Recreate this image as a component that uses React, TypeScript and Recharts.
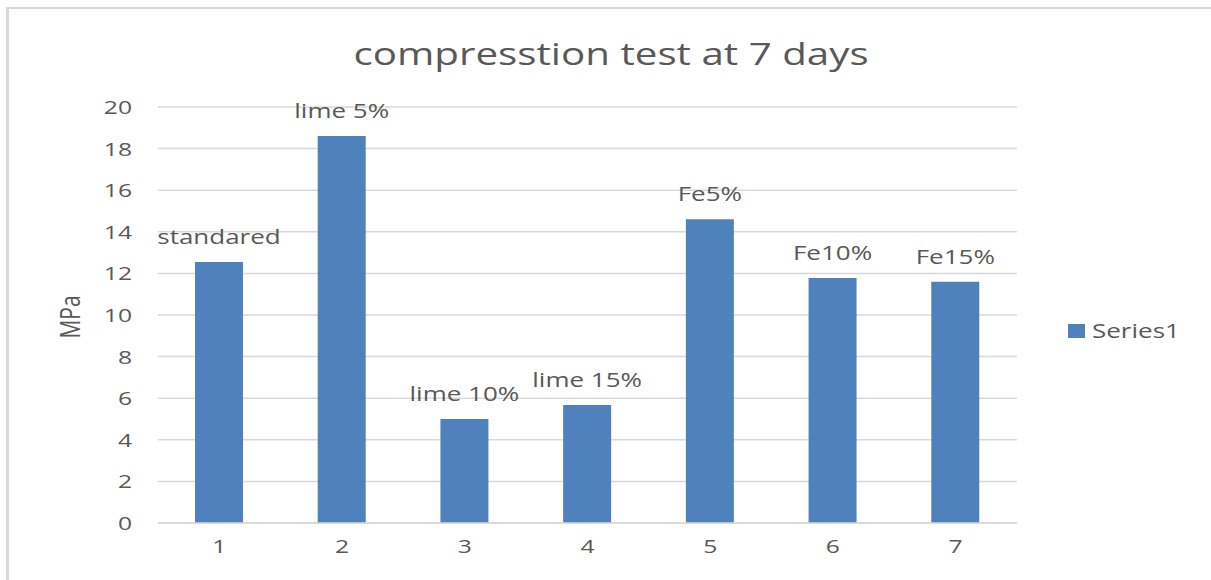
import React from "react"
import { BarChart, Bar, XAxis, YAxis, CartesianGrid, Legend, LabelList, Label } from "recharts"

// compression test at 7 days
const samples = ["1", "2", "3", "4", "5", "6", "7"]
const strength = [12.55, 18.6, 5.0, 5.67, 14.6, 11.78, 11.6]
const mixLabels = ["standared", "lime 5%", "lime 10%", "lime 15%", "Fe5%", "Fe10%", "Fe15%"]
const yTicks = [0, 2, 4, 6, 8, 10, 12, 14, 16, 18, 20]

const data = samples.map((s, i) => ({ name: s, value: strength[i], mix: mixLabels[i] }))

const FONT = "'Open Sans', sans-serif"
const TEXT = "#595959"
const GRID = "#d9d9d9"
const BLUE = "#4f81bd"
const SX = 1.3 // the source picture is stretched sideways

const XTick = (props: any) => {
  const { x, y, payload } = props
  return (
    <g transform={`translate(${x},${y}) scale(${SX},1)`}>
      <text x={0} y={22} textAnchor="middle" fontSize={19} fill={TEXT} fontFamily={FONT}>
        {payload.value}
      </text>
    </g>
  )
}

const YTick = (props: any) => {
  const { x, y, payload } = props
  return (
    <g transform={`translate(${x},${y}) scale(${SX},1)`}>
      <text x={0} y={7} textAnchor="end" fontSize={19} fill={TEXT} fontFamily={FONT}>
        {payload.value}
      </text>
    </g>
  )
}

const BarLabel = (props: any) => {
  const { x, y, width, index } = props
  return (
    <g transform={`translate(${x + width / 2},${y - 18}) scale(${SX},1)`}>
      <text x={0} y={0} textAnchor="middle" fontSize={20} fill={TEXT} fontFamily={FONT}>
        {data[index].mix}
      </text>
    </g>
  )
}

const AxisTitle = (props: any) => {
  const { viewBox } = props
  const cx = viewBox.x + 13
  const cy = viewBox.y + viewBox.height / 2 + 2
  return (
    <g transform={`translate(${cx},${cy}) scale(${SX},1) rotate(-90)`}>
      <text x={0} y={7} textAnchor="middle" fontSize={21} fill={TEXT} fontFamily={FONT}>
        MPa
      </text>
    </g>
  )
}

const LegendBox = () => (
  <div style={{ display: "flex", alignItems: "center", fontFamily: FONT }}>
    <span style={{ display: "inline-block", width: 17, height: 14, background: BLUE }} />
    <span
      style={{
        display: "inline-block",
        marginLeft: 7,
        fontSize: 20,
        color: TEXT,
        transform: `scaleX(${SX})`,
        transformOrigin: "left center",
      }}
    >
      Series1
    </span>
  </div>
)

export default function App() {
  return (
    <div style={{ position: "absolute", left: 0, top: 0, width: 1211, height: 580, background: "#fff", overflow: "hidden" }}>
      <div
        style={{
          position: "absolute",
          left: 6,
          top: 7,
          width: 1300,
          height: 700,
          borderLeft: `3px solid ${GRID}`,
          borderTop: `2px solid ${GRID}`,
        }}
      />
      <div
        style={{
          position: "absolute",
          left: 0,
          width: 1222,
          top: 32,
          textAlign: "center",
          fontFamily: FONT,
          fontSize: 31,
          color: TEXT,
          transform: `scaleX(${SX})`,
          transformOrigin: "611px 0",
          whiteSpace: "nowrap",
        }}
      >
        compresstion test at 7 days
      </div>
      <div style={{ position: "absolute", left: 0, top: 0 }}>
        <BarChart
          width={1211}
          height={580}
          data={data}
          margin={{ top: 107, right: 194, bottom: 17, left: 58 }}
          barSize={48}
        >
          <CartesianGrid vertical={false} stroke={GRID} strokeWidth={1.5} />
          <XAxis
            dataKey="name"
            tickLine={false}
            axisLine={{ stroke: GRID, strokeWidth: 1.5 }}
            height={40}
            tick={<XTick />}
            interval={0}
          />
          <YAxis
            domain={[0, 20]}
            ticks={yTicks}
            width={100}
            tickLine={false}
            axisLine={false}
            tickMargin={20}
            tick={<YTick />}
          >
            <Label content={<AxisTitle />} />
          </YAxis>
          <Legend
            layout="horizontal"
            align="center"
            verticalAlign="middle"
            content={<LegendBox />}
            wrapperStyle={{ position: "absolute", left: 1068, top: 317, width: 130 }}
          />
          <Bar dataKey="value" fill={BLUE} isAnimationActive={false}>
            <LabelList dataKey="mix" content={<BarLabel />} />
          </Bar>
        </BarChart>
      </div>
    </div>
  )
}
